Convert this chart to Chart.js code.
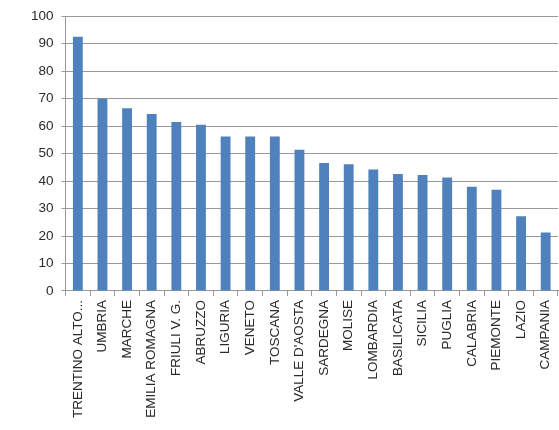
<!DOCTYPE html>
<html>
<head>
<meta charset="utf-8">
<script src="https://cdn.jsdelivr.net/npm/chart.js@4"></script>
<style>
  html, body { margin: 0; padding: 0; background: #fff; }
  #wrap { width: 559px; height: 430px; }
</style>
</head>
<body>
<div id="wrap"><canvas id="barchart" width="559" height="430"></canvas></div>
<script>
// regioni ordinate per valore
var regioni = ['TRENTINO ALTO ADIGE', 'UMBRIA', 'MARCHE', 'EMILIA ROMAGNA', 'FRIULI V. G.',
  'ABRUZZO', 'LIGURIA', 'VENETO', 'TOSCANA', "VALLE D'AOSTA", 'SARDEGNA', 'MOLISE',
  'LOMBARDIA', 'BASILICATA', 'SICILIA', 'PUGLIA', 'CALABRIA', 'PIEMONTE', 'LAZIO', 'CAMPANIA'];

var valori = [92.5, 70, 66.5, 64.4, 61.5, 60.5, 56.2, 56.2, 56.2, 51.4,
  46.6, 46.1, 44.2, 42.6, 42.2, 41.3, 37.9, 36.8, 27.2, 21.3];

var yTicks = [0, 10, 20, 30, 40, 50, 60, 70, 80, 90, 100];

var font = { family: 'Liberation Sans', size: 13.5 };

var barconfig = {
  type: 'bar',
  data: {
    labels: regioni,
    datasets: [{
      data: valori,
      backgroundColor: '#4F81BD',
      borderWidth: 0,
      categoryPercentage: 1,
      barPercentage: 0.4
    }]
  },
  options: {
    responsive: false,
    animation: false,
    layout: { padding: { left: 23, top: 6, right: 1, bottom: 8 } },
    plugins: { legend: { display: false }, tooltip: { enabled: false } },
    scales: {
      x: {
        afterFit: function (scale) { scale.paddingLeft = 0; scale.paddingRight = 0; },
        grid: { drawOnChartArea: false, drawTicks: true, tickLength: 5, color: '#999', offset: true },
        border: { color: '#999' },
        ticks: {
          font: font, color: '#2a2a2a', minRotation: 90, maxRotation: 90, autoSkip: false, padding: 4,
          callback: function (v, i) {
            var s = regioni[i];
            return s.length > 16 ? s.slice(0, 13) + '...' : s;
          }
        }
      },
      y: {
        min: 0, max: 100,
        afterBuildTicks: function (axis) { axis.ticks = yTicks.map(function (v) { return { value: v }; }); },
        grid: { color: '#999', tickLength: 4 },
        border: { color: '#999' },
        ticks: { font: font, color: '#2a2a2a', padding: 8 }
      }
    }
  }
};

var barchart = new Chart(document.getElementById('barchart'), barconfig);
</script>
</body>
</html>
